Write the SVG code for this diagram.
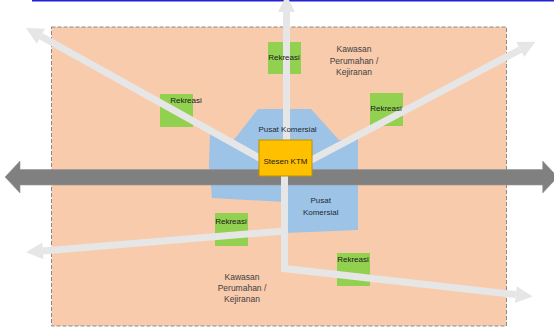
<svg xmlns="http://www.w3.org/2000/svg" width="554" height="328" viewBox="0 0 554 328">
<style>
.t{font-family:"Liberation Sans",Arial,sans-serif;text-anchor:middle}
.rek{fill:#92D050}
.rl{font-size:8px;fill:#1a1a1a}
.kw{font-size:8.5px;fill:#3f3f3f}
.pk{font-size:8px;fill:#222a35}
.lg{fill:none;stroke:#E7E6E6;stroke-width:7;marker-end:url(#ah)}
</style>
<defs>
<marker id="ah" markerUnits="userSpaceOnUse" markerWidth="17" markerHeight="17" refX="0" refY="8.5" orient="auto" overflow="visible">
<path d="M0,0 L17,8.5 L0,17 z" fill="#E7E6E6"/>
</marker>
</defs>
<rect x="32" y="0" width="522" height="1.5" fill="#2323D6"/>
<g id="kawasan-area">
<rect x="51.5" y="27" width="455" height="299" fill="#F8CBAD" stroke="#8a8a8a" stroke-width="1" stroke-dasharray="4,2"/>
</g>
<g id="pusat-komersial-area">
<polygon points="258,109 311,109 339,140 358,139 358,230 285,233 285,202 212,198 209,165 210,133 233,141" fill="#9DC3E6"/>
</g>
<g id="rekreasi-1"><rect class="rek" x="268" y="42" width="33" height="32"/></g>
<g id="rekreasi-2"><rect class="rek" x="160" y="94" width="33" height="33"/></g>
<g id="rekreasi-3"><rect class="rek" x="370" y="93" width="33" height="33"/></g>
<g id="rekreasi-4"><rect class="rek" x="215" y="213" width="33" height="33"/></g>
<g id="rekreasi-5"><rect class="rek" x="337" y="253" width="33" height="33"/></g>
<g id="rail">
<polygon points="5,177 20,161 20,169.5 542.7,169.5 542.7,161 557.7,177 542.7,193 542.7,185 20,185 20,193" fill="#808080" stroke="#959595" stroke-width="0.6"/>
</g>
<g id="connectors">
<path class="lg" d="M286.5,158 L286.5,12"/>
<path class="lg" d="M272,165 L40.9,36.3"/>
<path class="lg" d="M300,166 L520.3,49.6"/>
<path class="lg" d="M284.5,231 L42.9,250.9"/>
<path class="lg" d="M284.5,165 L284.5,268.5 L515.8,294.6"/>
</g>
<g id="stesen-ktm">
<rect x="259" y="140" width="53" height="36" fill="#FFC000" stroke="#BF9000" stroke-width="1"/>
<text class="t rl" x="285.5" y="163.5">Stesen KTM</text>
</g>
<g id="labels">
<text class="t rl" x="284" y="59.5">Rekreasi</text>
<text class="t rl" x="186" y="103">Rekreasi</text>
<text class="t rl" x="386" y="110.7">Rekreasi</text>
<text class="t rl" x="231" y="224.3">Rekreasi</text>
<text class="t rl" x="353" y="262">Rekreasi</text>
<text class="t kw" x="354" y="52">Kawasan</text>
<text class="t kw" x="354" y="63.5">Perumahan /</text>
<text class="t kw" x="354" y="74.5">Kejiranan</text>
<text class="t kw" x="242" y="279.5">Kawasan</text>
<text class="t kw" x="242" y="291">Perumahan /</text>
<text class="t kw" x="242" y="302">Kejiranan</text>
<text class="t pk" x="287.5" y="132.3">Pusat Komersial</text>
<text class="t pk" x="320.7" y="203">Pusat</text>
<text class="t pk" x="320.7" y="214.5">Komersial</text>
</g>
</svg>
